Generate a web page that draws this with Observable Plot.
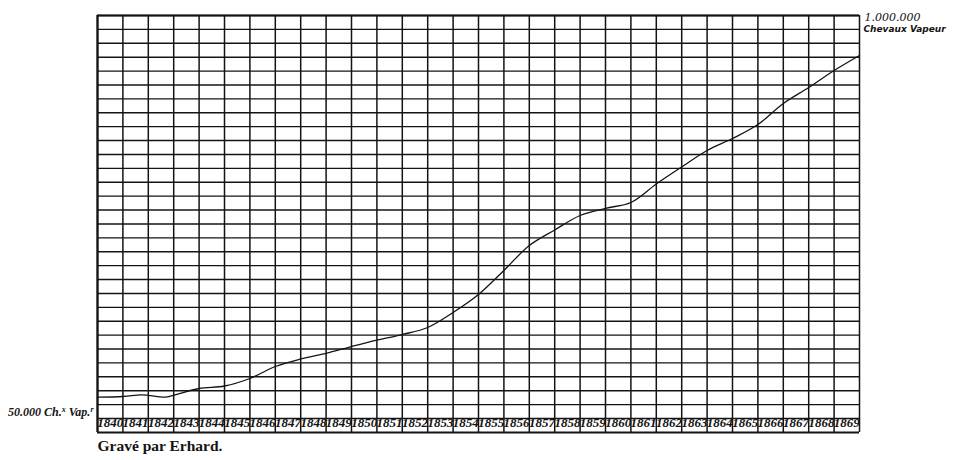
<!DOCTYPE html>
<html>
<head>
<meta charset="utf-8">
<script src="https://cdn.jsdelivr.net/npm/d3@7"></script>
<script src="https://cdn.jsdelivr.net/npm/@observablehq/plot@0.6"></script>
<style>
  html, body { margin: 0; padding: 0; background: #fff; }
  #chart svg { display: block; }
</style>
</head>
<body>
<div id="chart"></div>
<script>
// Year columns (tick labels)
const yearLabels = ["1840","1841","1842","1843","1844","1845","1846","1847","1848","1849",
  "1850","1851","1852","1853","1854","1855","1856","1857","1858","1859",
  "1860","1861","1862","1863","1864","1865","1866","1867","1868","1869"];

// Column boundaries (start of each year, plus end of 1869)
const columnEdges = [1840,1841,1842,1843,1844,1845,1846,1847,1848,1849,1850,1851,1852,1853,1854,
  1855,1856,1857,1858,1859,1860,1861,1862,1863,1864,1865,1866,1867,1868,1869,1870];

// Line: time (year) and steam horsepower
const times = [1840, 1841, 1841.7, 1842, 1842.65, 1843, 1844, 1845, 1846, 1847, 1848, 1849,
  1850, 1851, 1852, 1853, 1854, 1855, 1856, 1857, 1858, 1859, 1860, 1861, 1862, 1863,
  1864, 1865, 1866, 1867, 1868, 1869, 1870];
const power = [100200, 101900, 105600, 104700, 100200, 104700, 120700, 126600, 144300, 172600,
  190300, 203700, 219700, 234800, 248000, 264500, 299900, 342300, 398900, 457800, 494400,
  528500, 545500, 559200, 602800, 642900, 681800, 710000, 743000, 792600, 830300, 870300, 905700];

// Scale extremes labelled on the chart
const yMin = 50000, yMax = 1000000;
const rowCount = 29;
const rowLines = d3.range(rowCount + 1).map(i => yMin + i * (yMax - yMin) / rowCount);

const topLabel = ["1.000.000", "Chevaux Vapeur"];
const bottomLabel = "50.000 Ch.x Vap.r";
const credit = "Gravé par Erhard.";

const series = times.map((t, i) => ({t, p: power[i]}));
const yearData = yearLabels.map(s => ({label: s, mid: +s + 0.5}));

const ink = "#141414";

const chart = Plot.plot({
  width: 960,
  height: 460,
  marginLeft: 97,
  marginRight: 101,
  marginTop: 15,
  marginBottom: 42,
  x: {domain: [1840, 1870], axis: null},
  y: {domain: [yMin, yMax], axis: null},
  style: {background: "#fff", overflow: "visible"},
  marks: [
    Plot.ruleY(rowLines, {stroke: ink, strokeWidth: 1.4}),
    Plot.ruleY([yMin], {stroke: ink, strokeWidth: 2, dy: 14}),
    Plot.ruleX(columnEdges, {stroke: ink, strokeWidth: 1.5, insetBottom: -14}),
    Plot.ruleX([1840], {stroke: ink, strokeWidth: 2.2, insetBottom: -14}),
    Plot.ruleY([yMax], {stroke: ink, strokeWidth: 2}),
    Plot.line(series, {x: "t", y: "p", stroke: ink, strokeWidth: 1.3, curve: "catmull-rom"}),
    Plot.text(yearData, {x: "mid", text: "label", frameAnchor: "bottom", dy: 8,
      fontFamily: "Liberation Serif", fontStyle: "italic", fontWeight: "bold", fontSize: 13, fill: ink}),
    Plot.text([bottomLabel], {frameAnchor: "bottom-left", dx: -4, dy: -3, textAnchor: "end",
      fontFamily: "Liberation Serif", fontStyle: "italic", fontWeight: "bold", fontSize: 12, fill: ink}),
    Plot.text([topLabel[0]], {frameAnchor: "top-right", dx: 5, dy: -2, textAnchor: "start",
      fontFamily: "DejaVu Serif", fontStyle: "italic", fontSize: 11, fill: ink}),
    Plot.text([topLabel[1]], {frameAnchor: "top-right", dx: 4, dy: 10, textAnchor: "start",
      fontFamily: "DejaVu Sans", fontStyle: "italic", fontWeight: "bold", fontSize: 9, fill: ink}),
    Plot.text([credit], {frameAnchor: "bottom-left", dy: 32, textAnchor: "start",
      fontFamily: "Liberation Serif", fontWeight: "bold", fontSize: 15.5, fill: ink})
  ]
});
document.getElementById("chart").appendChild(chart);

// Render the abbreviations' raised letters as superscripts
d3.select(chart).selectAll("text").filter(function() { return this.textContent === bottomLabel; })
  .each(function() {
    const t = d3.select(this);
    t.text(null);
    t.append("tspan").text("50.000 Ch.");
    t.append("tspan").attr("font-size", 8).attr("dy", -4).text("x");
    t.append("tspan").attr("dy", 4).text(" Vap.");
    t.append("tspan").attr("font-size", 8).attr("dy", -4).text("r");
  });
</script>
</body>
</html>
